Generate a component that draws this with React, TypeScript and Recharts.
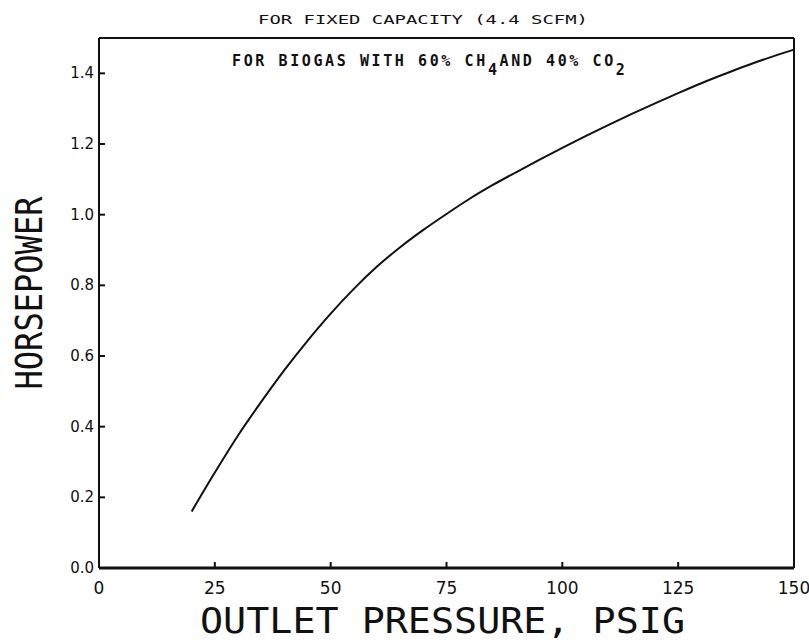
import React from "react";
import {
  LineChart,
  Line,
  XAxis,
  YAxis,
  ReferenceLine,
  Customized,
} from "recharts";

const pressure = [20, 25, 30, 35, 40, 45, 50, 55, 60, 65, 70, 75, 80, 85, 90, 95, 100, 105, 110, 115, 120, 125, 130, 135, 140, 145, 150];
const horsepower = [0.16, 0.27, 0.375, 0.47, 0.56, 0.643, 0.72, 0.79, 0.853, 0.908, 0.957, 1.002, 1.045, 1.084, 1.12, 1.155, 1.189, 1.222, 1.254, 1.285, 1.315, 1.344, 1.372, 1.398, 1.423, 1.446, 1.467];
const xTicks = [0, 25, 50, 75, 100, 125, 150];
const yTicks = [0, 0.2, 0.4, 0.6, 0.8, 1.0, 1.2, 1.4];

const title = "FOR FIXED CAPACITY (4.4 SCFM)";
const xTitle = "OUTLET PRESSURE, PSIG";
const yTitle = "HORSEPOWER";

const data = pressure.map((p, i) => ({ p, hp: horsepower[i] }));

const INK = "#111";

const renderYTick = (props: any) => {
  const { x, y, payload } = props;
  return (
    <g>
      <line x1={x + 4} y1={y} x2={x + 10} y2={y} stroke={INK} strokeWidth={2} />
      <text x={x - 1} y={y} dy={5} textAnchor="end" fontFamily="DejaVu Sans" fontSize={15} fill={INK}>
        {Number(payload.value).toFixed(1)}
      </text>
    </g>
  );
};

const renderXTick = (props: any) => {
  const { x, y, payload } = props;
  return (
    <g>
      <line x1={x} y1={y} x2={x} y2={y - 6} stroke={INK} strokeWidth={2} />
      <text x={x} y={y} dy={26} textAnchor="middle" fontFamily="DejaVu Sans" fontSize={17} fill={INK}>
        {payload.value}
      </text>
    </g>
  );
};

const renderXLabel = (props: any) => {
  const vb = props.viewBox || {};
  const cx = vb.x + vb.width / 2 - 4;
  return (
    <text x={cx} y={vb.y + 65} textAnchor="middle" fontFamily="DejaVu Sans Mono" fontSize={35} fill={INK} textLength={485} lengthAdjust="spacingAndGlyphs">
      {xTitle}
    </text>
  );
};

const renderYLabel = (props: any) => {
  const vb = props.viewBox || {};
  const cx = 29;
  const cy = vb.y + vb.height / 2 - 10;
  return (
    <text x={cx} y={cy} dy={13} textAnchor="middle" transform={`rotate(-90, ${cx}, ${cy})`} fontFamily="DejaVu Sans Mono" fontSize={37} fill={INK} textLength={193} lengthAdjust="spacingAndGlyphs">
      {yTitle}
    </text>
  );
};

const Titles = () => (
  <g>
    <text x={423} y={24} textAnchor="middle" fontFamily="DejaVu Sans Mono" fontSize={13} fill={INK} textLength={330} lengthAdjust="spacingAndGlyphs">
      {title}
    </text>
    <text x={232} y={66} fontFamily="DejaVu Sans Mono" fontWeight="bold" fontSize={15} fill={INK} letterSpacing={2.6}>
      <tspan>FOR BIOGAS WITH 60% CH</tspan>
      <tspan dy={9}>4</tspan>
      <tspan dy={-9}>AND 40% CO</tspan>
      <tspan dy={9}>2</tspan>
    </text>
  </g>
);

export default function App() {
  return (
    <div style={{ position: "absolute", left: 0, top: 0, width: 809, height: 643, background: "#fff" }}>
      <LineChart width={809} height={643} data={data} margin={{ top: 38, right: 15, bottom: 0, left: 0 }}>
        <XAxis
          dataKey="p"
          type="number"
          domain={[0, 150]}
          ticks={xTicks}
          height={75}
          tickLine={false}
          tickSize={0}
          tickMargin={0}
          tick={renderXTick}
          axisLine={{ stroke: INK, strokeWidth: 3 }}
          label={{ content: renderXLabel }}
        />
        <YAxis
          type="number"
          domain={[0, 1.5]}
          ticks={yTicks}
          width={99}
          tickLine={false}
          tickSize={0}
          tickMargin={4}
          tick={renderYTick}
          axisLine={{ stroke: INK, strokeWidth: 2 }}
          label={{ content: renderYLabel }}
        />
        <ReferenceLine y={1.5} stroke={INK} strokeWidth={2} />
        <ReferenceLine x={150} stroke={INK} strokeWidth={2} />
        <Line
          dataKey="hp"
          type="monotone"
          stroke={INK}
          strokeWidth={2}
          dot={false}
          isAnimationActive={false}
        />
        <Customized component={Titles} />
      </LineChart>
    </div>
  );
}
